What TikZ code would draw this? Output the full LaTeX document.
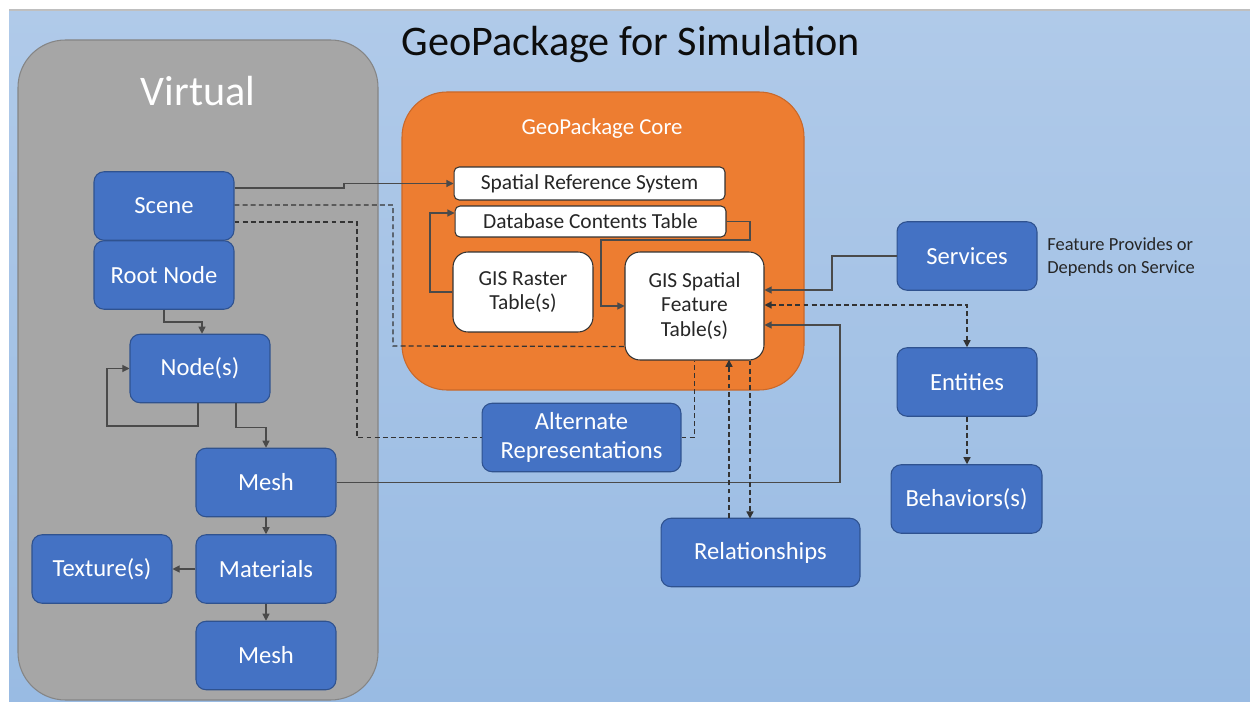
\documentclass[tikz,border=0pt]{standalone}
\usepackage{fontspec}
\setmainfont{Carlito}
\usetikzlibrary{arrows.meta,calc}
\definecolor{bgtop}{HTML}{B0CAE9}
\definecolor{bgbot}{HTML}{99BBE3}
\definecolor{virtgray}{HTML}{A6A6A6}
\definecolor{virtedge}{HTML}{858585}
\definecolor{coreorange}{HTML}{ED7D31}
\definecolor{coreedge}{HTML}{C9682A}
\definecolor{blueface}{HTML}{4472C4}
\definecolor{blueedge}{HTML}{2F528F}
\definecolor{linkgray}{HTML}{4A4A4A}
\begin{document}
\begin{tikzpicture}[x=0.02cm, y=-0.02cm,
    blk/.style={draw=blueedge, fill=blueface, rounded corners=0.2cm, text=white,
      font=\fontsize{14}{16.5}\selectfont, align=center, line width=0.6pt,
      minimum width=2.8cm, minimum height=1.37cm, inner sep=0pt},
    tbl/.style={draw=black!80, fill=white, rounded corners=0.3cm, text=black!85,
      font=\fontsize{12.2}{13.8}\selectfont, align=center, line width=0.6pt, inner sep=0pt},
    lnk/.style={draw=linkgray, line width=0.6pt},
    dsh/.style={draw=black!80, line width=0.75pt, dash pattern=on 2.8pt off 1.8pt},
    arr/.style={-{Triangle[length=4pt,width=4pt]}},
    arrs/.style={{Triangle[length=4pt,width=4pt]}-{Triangle[length=4pt,width=4pt]}}]

    \useasboundingbox (0,0) rectangle (1250,702);
    \fill[white] (0,0) rectangle (1250,702);
    \shade[top color=bgtop, bottom color=bgbot] (9,10) rectangle (1250,702);
    \draw[black!25, line width=0.8pt] (9,10) -- (1250,10);

    % big frames
    \draw[virtedge, fill=virtgray, line width=0.6pt, rounded corners=0.95cm] (18,40) rectangle (378,700);
    \draw[coreedge, fill=coreorange, line width=0.6pt, rounded corners=0.9cm] (402,92) rectangle (804,390);

    \node[font=\fontsize{24}{28}\selectfont, text=black!95] (title) at (631,44) {GeoPackage for Simulation};
    \node[font=\fontsize{24}{28}\selectfont, text=white] (virtual) at (198,91) {Virtual};
    \node[font=\fontsize{13}{15}\selectfont, text=white] (core) at (602,129) {GeoPackage Core};

    % core tables
    \node[tbl, rounded corners=0.1cm, minimum width=5.42cm, minimum height=0.66cm] (srs) at (589.5,183.5) {Spatial Reference System};
    \node[tbl, rounded corners=0.1cm, minimum width=5.42cm, minimum height=0.62cm] (dct) at (590.5,221.5) {Database Contents Table};
    \node[tbl, minimum width=2.8cm, minimum height=1.6cm] (raster) at (523,292) {GIS Raster\\Table(s)};
    \node[tbl, minimum width=2.78cm, minimum height=2.16cm] (feat) at (694.5,306) {GIS Spatial\\Feature\\Table(s)};

    % virtual side
    \node[blk] (scene) at (164,206) {Scene};
    \node[blk] (root) at (164,275) {Root Node};
    \node[blk] (nodes) at (200,368.5) {Node(s)};
    \node[blk] (mesh) at (266,482.5) {Mesh};
    \node[blk] (mat) at (266,569) {Materials};
    \node[blk] (tex) at (102,569) {Texture(s)};
    \node[blk] (meshb) at (266,655.5) {Mesh};

    % other blocks
    \node[blk, minimum width=3.98cm] (alt) at (581.5,437.5) {Alternate\\Representations};
    \node[blk, minimum width=3.98cm] (rel) at (760.5,552.5) {Relationships};
    \node[blk] (serv) at (967,256) {Services};
    \node[blk] (ent) at (967,382) {Entities};
    \node[blk, minimum width=3.02cm] (beh) at (966.5,499) {Behaviors(s)};
    \node[font=\fontsize{10.5}{13}\selectfont, text=black!85, align=left, anchor=west, inner sep=0pt] (note) at (1047,257) {Feature Provides or\\Depends on Service};

    % connectors
    \draw[lnk,arr] ($(scene.east)+(0,-18)$) -- (344,188) -- (344,183.5) -- (srs.west);
    \draw[dsh] ($(scene.east)+(0,-1)$) -- (393,205) -- (393,346) -- ($(feat.south west)+(2,-14)$);
    \draw[dsh] ($(scene.east)+(0,16)$) -- (357,222) |- (alt.west);
    \draw[dsh] (alt.east) -| (feat.south);
    \draw[lnk,arr] (dct.east) -- (750,221.5) -- (750,240) -- (601,240) |- (feat.west);
    \draw[lnk,arr] (raster.west) -- (430,292) |- ($(dct.west)+(0,-8.5)$);
    \draw[lnk,arr] (serv.west) -- (832,256) |- ($(feat.east)+(0,-16)$);
    \draw[dsh,arrs] ($(feat.east)+(0,-1)$) -| (ent.north);
    \draw[lnk,arr] (mesh.east) -- (840,482.5) |- ($(feat.east)+(0,19)$);
    \draw[dsh,arr] ($(rel.north)+(-31.5,0)$) -- ++(0,-158);
    \draw[dsh,arr] ($(feat.south)+(55.5,0)$) -- ++(0,158);
    \draw[dsh,arr] (ent.south) -- (ent.south |- beh.north);
    \draw[lnk,arr] (root.south) -- (164,322) -| ($(nodes.north)+(2,0)$);
    \draw[lnk,arr] ($(nodes.south)+(-2,0)$) |- (107,426) |- (nodes.west);
    \draw[lnk,arr] ($(nodes.south)+(36,0)$) -- ++(0,24) -| (mesh.north);
    \draw[lnk,arr] (mesh.south) -- (mat.north);
    \draw[lnk,arr] (mat.west) -- (tex.east);
    \draw[lnk,arr] (mat.south) -- (meshb.north);
\end{tikzpicture}
\end{document}
